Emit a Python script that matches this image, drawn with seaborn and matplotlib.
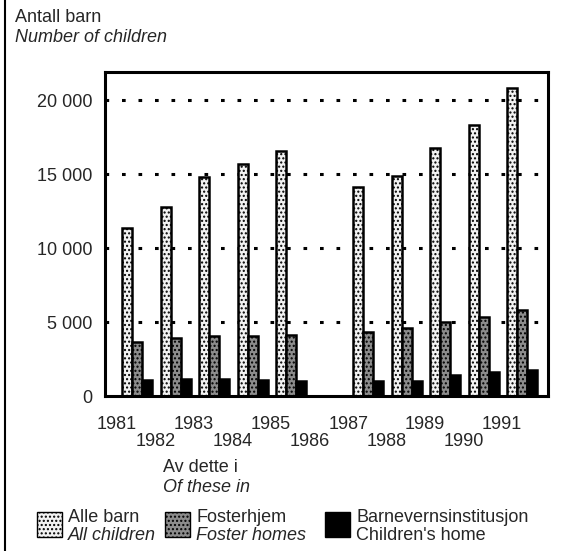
import matplotlib
matplotlib.use("Agg")
import matplotlib.pyplot as plt
import matplotlib.transforms as mtransforms
from matplotlib.patches import Rectangle
from matplotlib.ticker import MultipleLocator, FuncFormatter
import seaborn as sns
import numpy as np
import pandas as pd

# data
years = [1981, 1982, 1983, 1984, 1985, 1986, 1987, 1988, 1989, 1990, 1991]
alle_barn = [11400, 12800, 14800, 15700, 16550, np.nan, 14150, 14900, 16800, 18350, 20800]
fosterhjem = [3650, 3900, 4050, 4100, 4150, np.nan, 4350, 4600, 5000, 5350, 5800]
institusjon = [1100, 1150, 1150, 1100, 1050, np.nan, 1000, 1050, 1450, 1650, 1750]
series = ["Alle barn", "Fosterhjem", "Barnevernsinstitusjon"]

df = pd.DataFrame({"year": years * 3,
                   "serie": sum([[s] * len(years) for s in series], []),
                   "value": alle_barn + fosterhjem + institusjon})

sns.set_style("white")
plt.rcParams['font.family'] = ['Liberation Sans', 'DejaVu Sans']
plt.rcParams['hatch.linewidth'] = 1.0
FS = 13

fig = plt.figure(figsize=(5.78, 5.51), dpi=100)
ax = fig.add_axes([0.182, 0.281, 0.766, 0.588])

faces = ["#f2f2f2", "#8c8c8c", "#000000"]
sns.barplot(data=df, x="year", y="value", hue="serie", hue_order=series,
            palette=faces, width=0.78, gap=0, saturation=1, legend=False,
            edgecolor="black", linewidth=1.8, ax=ax)

hatches = ["....", "....", None]
for cont, h in zip(ax.containers, hatches):
    for p in cont:
        if h:
            p.set_hatch(h)

ax.set_ylim(0, 21900)
ax.set_xlim(-0.83, 10.67)
ax.yaxis.set_major_locator(MultipleLocator(5000))
ax.yaxis.set_minor_locator(MultipleLocator(1000))
ax.yaxis.set_major_formatter(FuncFormatter(lambda v, p: f"{int(v):,}".replace(",", " ")))
ax.tick_params(axis="y", which="major", direction="in", length=7, width=2, labelsize=FS, pad=9)
ax.tick_params(axis="y", which="minor", direction="in", length=4, width=1.5)
ax.tick_params(axis="x", length=0, labelsize=FS, pad=14)
ax.set_yticks([0, 5000, 10000, 15000, 20000])
for v in [5000, 10000, 15000, 20000]:
    ax.axhline(v, color="black", linestyle=(0, (1.2, 4.2)), linewidth=2.2, zorder=0)

ax.set_xticks(range(len(years)))
ax.set_xticklabels([str(y) if i % 2 == 0 else "\n" + str(y) for i, y in enumerate(years)],
                   linespacing=1.0)
shift = mtransforms.ScaledTranslation(-20 / 100, 0, fig.dpi_scale_trans)
for lab in ax.get_xticklabels():
    lab.set_transform(lab.get_transform() + shift)

ax.set_xlabel("")
ax.set_ylabel("")
for s in ax.spines.values():
    s.set_visible(True)
    s.set_linewidth(2.2)
    s.set_color("black")

# titles
fig.text(15 / 578, 1 - 18 / 551, "Antall barn", fontsize=FS, va="center")
fig.text(15 / 578, 1 - 37 / 551, "Number of children", fontsize=FS, style="italic", va="center")
fig.text(163 / 578, 1 - 468 / 551, "Av dette i", fontsize=FS, va="center")
fig.text(163 / 578, 1 - 488 / 551, "Of these in", fontsize=FS, style="italic", va="center")

# legend
leg = [(37, "Alle barn", "All children", True),
       (165, "Fosterhjem", "Foster homes", True),
       (325, "Barnevernsinstitusjon", "Children's home", False)]
for (x0, no, en, ital), face, h in zip(leg, faces, hatches):
    r = Rectangle((x0 / 578, 1 - 537 / 551), 25 / 578, 25 / 551, transform=fig.transFigure,
                  facecolor=face, edgecolor="black", linewidth=1, hatch=h)
    fig.patches.append(r)
    fig.text((x0 + 31) / 578, 1 - 517 / 551, no, fontsize=FS, va="center")
    fig.text((x0 + 31) / 578, 1 - 535 / 551, en, fontsize=FS, va="center",
             style="italic" if ital else "normal")

# page frame line at left
fig.add_artist(plt.Line2D([5 / 578, 5 / 578], [0, 1], transform=fig.transFigure,
                          color="black", linewidth=1.5))

fig.savefig("out.png", dpi=100)
